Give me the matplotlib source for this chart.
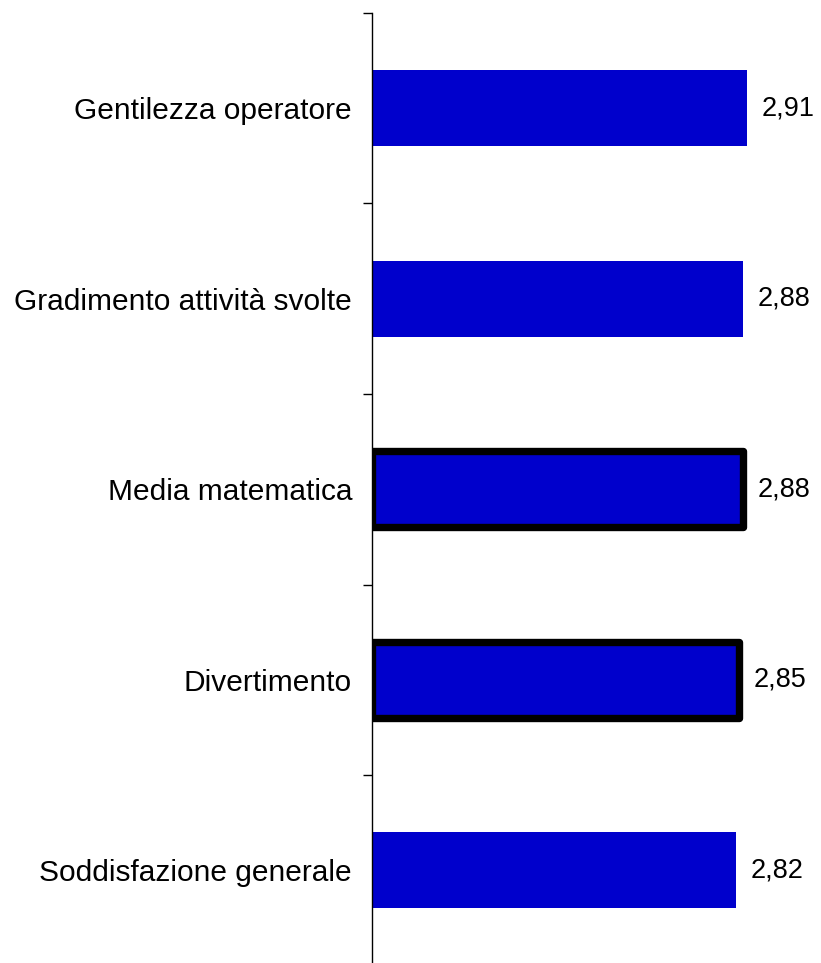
import matplotlib
matplotlib.use("Agg")
import matplotlib.pyplot as plt
import numpy as np

categories = ["Gentilezza operatore", "Gradimento attività svolte", "Media matematica",
              "Divertimento", "Soddisfazione generale"]
values = [2.91, 2.88, 2.88, 2.85, 2.82]
highlighted = ["Media matematica", "Divertimento"]

plt.rcParams['font.family'] = ['Liberation Sans', 'DejaVu Sans']

W, H, DPI = 821, 963, 100
fig = plt.figure(figsize=(W / DPI, H / DPI), dpi=DPI)
left_px, top_px, step_px = 371.5, 13.0, 190.5
n = len(categories)
ax_h = n * step_px
ax = fig.add_axes([left_px / W, (H - top_px - ax_h) / H, (W - left_px) / W, ax_h / H])

y = np.arange(n)
bars = ax.barh(y, values, height=0.4, color="#0000CC", linewidth=0)
for b, c in zip(bars, categories):
    if c in highlighted:
        b.set_edgecolor("black")
        b.set_linewidth(5.3)
        b.set_joinstyle("round")

for yi, v in zip(y, values):
    ax.annotate(f"{v:.2f}".replace(".", ","), xy=(v, yi), xytext=(10.5, 0),
                textcoords="offset points", va="center", ha="left", fontsize=19.5)

ax.set_xlim(0, (W - left_px) / 129.1)
ax.set_ylim(n - 0.5, -0.5)
ax.set_yticks(y)
ax.set_yticklabels(categories, fontsize=21.5)
ax.tick_params(axis="y", which="major", length=0, pad=14)
ax.set_yticks(np.arange(n + 1) - 0.5, minor=True)
ax.tick_params(axis="y", which="minor", length=6.5, width=1, direction="out")
ax.set_xticks([])
for s in ["top", "right", "bottom"]:
    ax.spines[s].set_visible(False)
ax.spines["left"].set_linewidth(1)

fig.savefig("out.png", dpi=DPI)
